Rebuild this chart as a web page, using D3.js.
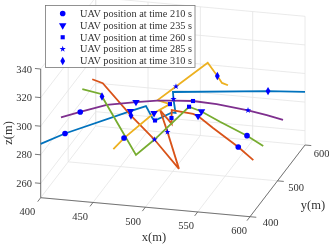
<!DOCTYPE html>
<html>
<head>
<meta charset="utf-8">
<script src="https://cdn.jsdelivr.net/npm/d3@7"></script>
<style>
html, body { margin: 0; padding: 0; background: #fff; }
svg { display: block; filter: blur(0.35px); }
text { font-family: "Liberation Serif", serif; fill: #333; }
</style>
</head>
<body>
<script>
// values, x / y / z in metres
const blueX = [400, 418, 470, 482.2, 487.6, 488.2, 501.8, 503.9, 501.4, 500.1, 575.2, 600]
const blueY = [400, 420, 460, 470, 475, 480, 490, 495, 497, 500, 560, 600]
const blueZ = [287.6, 291.1, 300.2, 302, 292, 289.8, 293.8, 292.3, 301.4, 305.5, 296.1, 287.1]
const blueMarks = [1, 2, 5, 8, 10]

const orangeX = [433.5, 440.9, 470.5, 495.1, 521.6, 509.3, 500.9, 509.4, 507.9, 506.8, 521.9, 525.4, 538.4, 562.5, 576.9]
const orangeY = [460, 470, 460, 450, 440, 445, 450, 460, 465, 470, 490, 495, 500, 500, 500]
const orangeZ = [320, 315.2, 297.1, 284.8, 268.2, 292, 305.5, 293.8, 296.6, 300.8, 294.1, 291.6, 282.9, 271.2, 263]
const orangeMarks = [13, 11, 8, 5, 2]

const yellowX = [458.9, 466.5, 489.9, 502.5, 489.4, 504.3, 530.7, 538.6, 541.7, 546.1]
const yellowY = [440, 450, 470, 480, 485, 495, 510, 515, 520, 525]
const yellowZ = [277.8, 283.6, 297.6, 302.2, 302.9, 310.9, 325.5, 315.5, 309.6, 307]
const yellowMarks = [1, 2, 3, 5, 7]

const purpleX = [403.6, 419.4, 442, 467.4, 484.9, 497.5, 514, 534, 560, 575.3, 588.2]
const purpleY = [460, 470, 480, 490, 500, 510, 520, 530, 545, 555, 565]
const purpleZ = [291.4, 293.7, 297.6, 298.8, 298.4, 296.8, 295.1, 291.8, 285.4, 280.6, 275.5]
const purpleMarks = [1, 3, 6, 8]

const greenX = [424, 439.2, 440.2, 477.9, 493, 518.1, 527.4, 542.4, 565.6, 579.8]
const greenY = [460, 470, 470, 450, 460, 490, 500, 510, 520, 525]
const greenZ = [312.4, 307.6, 305.9, 272.5, 281.8, 298.9, 293.7, 285, 274.3, 266.8]
const greenMarks = [8, 6, 5, 4, 2]

const legendLabels = ['UAV position at time 210 s', 'UAV position at time 235 s', 'UAV position at time 260 s', 'UAV position at time 285 s', 'UAV position at time 310 s']
const xTicks = [400, 450, 500, 550, 600]
const yTicks = [400, 500, 600]
const zTicks = [260, 280, 300, 320, 340]

const width = 329
const height = 245

const series = [
  {x: blueX, y: blueY, z: blueZ, marks: blueMarks, color: '#0072BD'},
  {x: orangeX, y: orangeY, z: orangeZ, marks: orangeMarks, color: '#D95319'},
  {x: yellowX, y: yellowY, z: yellowZ, marks: yellowMarks, color: '#EDB120'},
  {x: purpleX, y: purpleY, z: purpleZ, marks: purpleMarks, color: '#7E2F8E'},
  {x: greenX, y: greenY, z: greenZ, marks: greenMarks, color: '#77AC30'}
]

// each data axis moves the point along its own screen direction
const xH = d3.scaleLinear().domain([400, 600]).range([0, 209.3])
const xV = d3.scaleLinear().domain([400, 600]).range([0, 19])
const yH = d3.scaleLinear().domain([400, 600]).range([0, 55])
const yV = d3.scaleLinear().domain([400, 600]).range([0, -71.7])
const zV = d3.scaleLinear().domain([250, 340]).range([0, -128.7])
const ox = 40.7
const oy = 197.7
const project = (x, y, z) => [ox + xH(x) + yH(y), oy + xV(x) + yV(y) + zV(z)]

const svg = d3.select('body').append('svg')
  .attr('width', width)
  .attr('height', height)

const line = d3.line()

// grid on the floor and the two back walls
const gridSegs = []
xTicks.forEach(x => {
  gridSegs.push([project(x, 400, 250), project(x, 600, 250)])
  gridSegs.push([project(x, 600, 250), project(x, 600, 340)])
})
yTicks.forEach(y => {
  gridSegs.push([project(400, y, 250), project(600, y, 250)])
  gridSegs.push([project(400, y, 250), project(400, y, 340)])
})
zTicks.forEach(z => {
  gridSegs.push([project(400, 400, z), project(400, 600, z)])
  gridSegs.push([project(400, 600, z), project(600, 600, z)])
})
svg.append('g').selectAll('path')
  .data(gridSegs)
  .enter().append('path')
  .attr('d', line)
  .attr('fill', 'none')
  .attr('stroke', '#e4e4e4')
  .attr('stroke-width', 0.8)

// axis lines and ticks
const axisSegs = [
  [project(400, 400, 250), project(600, 400, 250)],
  [project(600, 400, 250), project(600, 600, 250)],
  [project(400, 400, 250), project(400, 400, 340)]
]
xTicks.forEach(x => axisSegs.push([project(x, 400, 250), project(x, 389, 250)]))
yTicks.forEach(y => axisSegs.push([project(600, y, 250), project(606, y, 250)]))
zTicks.forEach(z => axisSegs.push([project(400, 400, z), project(394.5, 400, z)]))
svg.append('g').selectAll('path')
  .data(axisSegs)
  .enter().append('path')
  .attr('d', line)
  .attr('fill', 'none')
  .attr('stroke', '#555')
  .attr('stroke-width', 0.8)

const xLabelShift = d3.scaleLinear().domain([400, 600]).range([-13.4, -11])
svg.append('g').selectAll('text')
  .data(xTicks)
  .enter().append('text')
  .attr('x', d => project(d, 400, 250)[0] + xLabelShift(d))
  .attr('y', d => project(d, 400, 250)[1] + 17.5)
  .attr('text-anchor', 'middle')
  .attr('font-size', 10.5)
  .text(d => d)

const yLabelShiftH = d3.scaleLinear().domain([400, 600]).range([20.7, 16.5])
const yLabelShiftV = d3.scaleLinear().domain([400, 600]).range([9, 11.5])
svg.append('g').selectAll('text')
  .data(yTicks)
  .enter().append('text')
  .attr('x', d => project(600, d, 250)[0] + yLabelShiftH(d))
  .attr('y', d => project(600, d, 250)[1] + yLabelShiftV(d))
  .attr('text-anchor', 'middle')
  .attr('font-size', 10.5)
  .text(d => d)

svg.append('g').selectAll('text')
  .data(zTicks)
  .enter().append('text')
  .attr('x', 32)
  .attr('y', d => project(400, 400, d)[1] + 3.5)
  .attr('text-anchor', 'end')
  .attr('font-size', 10.5)
  .text(d => d)

svg.append('text').attr('x', 154).attr('y', 241).attr('text-anchor', 'middle').attr('font-size', 12.5).text('x(m)')
svg.append('text').attr('x', 313).attr('y', 209).attr('text-anchor', 'middle').attr('font-size', 12.5).text('y(m)')
svg.append('text')
  .attr('transform', 'translate(12,133) rotate(-90)')
  .attr('text-anchor', 'middle')
  .attr('font-size', 12.5)
  .text('z(m)')

// flight paths
svg.append('g').selectAll('path')
  .data(series)
  .enter().append('path')
  .attr('d', s => line(s.x.map((x, i) => project(x, s.y[i], s.z[i]))))
  .attr('fill', 'none')
  .attr('stroke', s => s.color)
  .attr('stroke-width', 1.8)
  .attr('stroke-linejoin', 'miter')

// one marker shape per time
const shapes = [
  {type: d3.symbolCircle, size: 25, turn: 0},
  {type: d3.symbolTriangle, size: 24, turn: 180},
  {type: d3.symbolSquare, size: 17, turn: 0},
  {type: d3.symbolStar, size: 12, turn: 0},
  {type: d3.symbolDiamond, size: 20, turn: 0}
]
const markerData = []
series.forEach(s => {
  s.marks.forEach((m, t) => {
    markerData.push({p: project(s.x[m], s.y[m], s.z[m]), t: t})
  })
})
const symbolPath = t => d3.symbol().type(shapes[t].type).size(shapes[t].size)()

svg.append('g').selectAll('path')
  .data(markerData)
  .enter().append('path')
  .attr('d', d => symbolPath(d.t))
  .attr('transform', d => `translate(${d.p[0]},${d.p[1]}) rotate(${shapes[d.t].turn})`)
  .attr('fill', '#0000ff')

// legend
const legend = svg.append('g')
legend.append('rect')
  .attr('x', 45.5)
  .attr('y', 5.5)
  .attr('width', 149.5)
  .attr('height', 62)
  .attr('fill', '#fff')
  .attr('stroke', '#777')
  .attr('stroke-width', 0.8)
const rowY = d3.scaleLinear().domain([0, 4]).range([13.5, 61])
const rows = legend.selectAll('g')
  .data(legendLabels)
  .enter().append('g')
  .attr('transform', (d, i) => `translate(0,${rowY(i)})`)
rows.append('path')
  .attr('d', (d, i) => symbolPath(i))
  .attr('transform', (d, i) => `translate(62.7,0) rotate(${shapes[i].turn})`)
  .attr('fill', '#0000ff')
rows.append('text')
  .attr('x', 80)
  .attr('y', 3.3)
  .attr('font-size', 10.3)
  .text(d => d)
</script>
</body>
</html>
